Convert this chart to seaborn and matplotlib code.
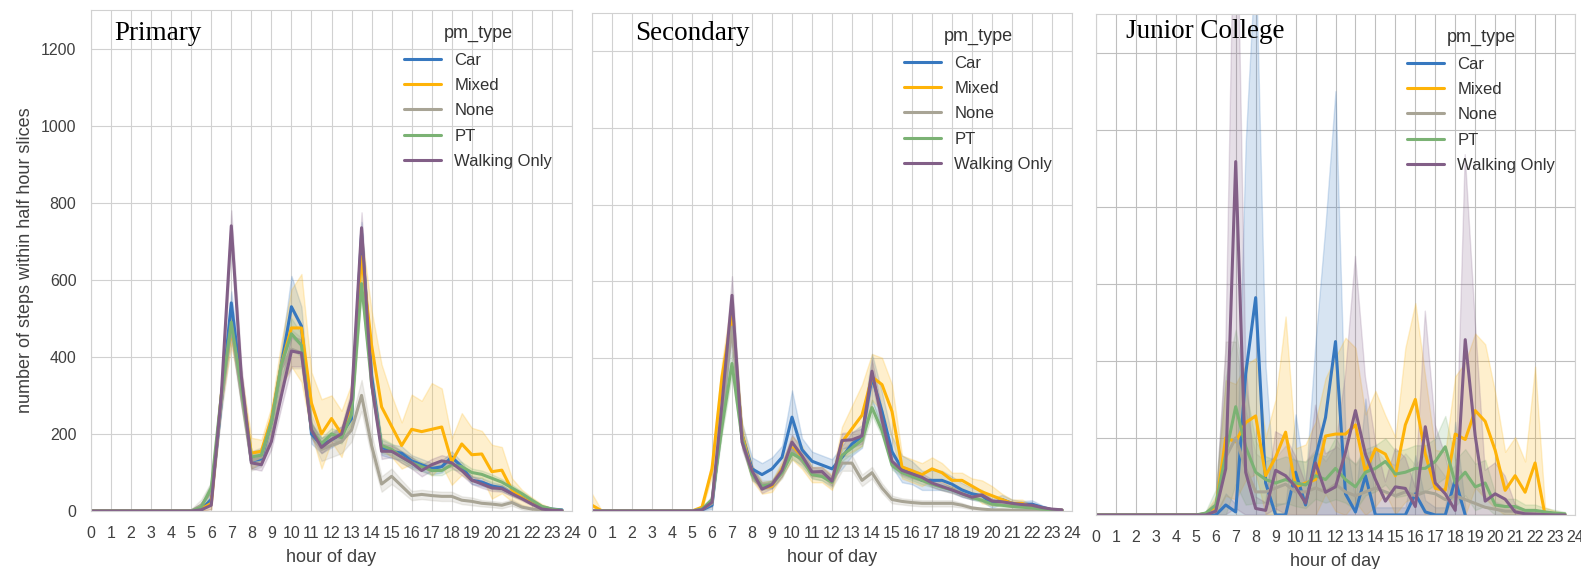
import numpy as np
import pandas as pd
import matplotlib
matplotlib.use('Agg')
import matplotlib.pyplot as plt
import seaborn as sns

nan = np.nan
hours = np.arange(0, 24, 0.5)  # half hour slices
pm_types = ['Car', 'Mixed', 'None', 'PT', 'Walking Only']
schools = ['Primary', 'Secondary', 'Junior College']

# --- Primary: mean steps per half hour
prim_car = [0,0,0,0,0,0,0,0,0,0,0,3, 30,280,540,330,130,135, 230,380,530,480,200,170, 185,200,240,720,350,165, 155,150,130,120,110,115, 140,115,80,75,65,60, 45,35,20,10,5,3]
prim_mixed = [0,0,0,0,0,0,0,0,0,0,0,5, 20,300,470,330,150,155, 240,380,475,475,280,200, 240,200,280,660,430,270, 220,170,212,206,212,218, 128,174,146,148,102,106, 55,35,20,8,3,0]
prim_none = [0,0,0,0,0,0,0,0,0,0,0,15, 50,280,480,300,130,140, 230,370,420,410,220,160, 170,180,210,300,170,70, 90,65,40,43,40,38, 38,28,25,20,18,15, 22,10,5,3,1,0]
prim_pt = [0,0,0,0,0,0,0,0,0,0,0,10, 60,300,490,320,140,145, 230,380,460,430,210,175, 200,190,250,590,330,170, 160,140,125,115,105,105, 120,115,100,95,85,75, 60,45,28,12,5,2]
prim_walk = [0,0,0,0,0,0,0,0,0,0,0,3, 15,300,740,350,125,120, 180,300,415,410,210,165, 185,200,290,735,330,155, 155,140,125,105,120,130, 125,105,80,70,60,58, 45,32,18,5,2,1]
# band half widths
prim_car_w = [0,0,0,0,0,0,0,0,0,0,3,5, 10,20,30,25,20,15, 20,40,80,50,25,20, 20,20,25,30,25,20, 18,18,15,15,15,15, 15,12,10,10,8,8, 6,5,4,3,2,1]
prim_mixed_w = [0,0,0,0,0,0,0,0,0,0,3,8, 15,30,40,30,40,30, 30,60,100,140,80,90, 60,60,50,60,90,110, 80,60,90,80,120,100, 60,80,70,60,70,60, 30,20,15,10,5,2]
prim_none_w = [0,0,0,0,0,0,0,0,0,0,5,15, 25,30,40,30,25,25, 25,40,50,40,30,30, 30,30,30,40,30,20, 20,15,12,12,12,12, 12,10,10,8,8,8, 8,6,5,3,2,1]
prim_pt_w = [0,0,0,0,0,0,0,0,0,0,3,10, 15,20,30,20,15,15, 20,30,40,30,20,15, 15,15,20,30,25,20, 15,15,15,12,12,12, 12,12,10,10,10,8, 8,6,5,3,2,1]
prim_walk_w = [0,0,0,0,0,0,0,0,0,0,2,5, 10,30,40,30,15,15, 20,30,40,35,20,15, 15,20,25,40,30,20, 15,15,15,15,15,15, 12,12,10,10,8,8, 6,5,4,3,2,1]

# --- Secondary
sec_car = [0,0,0,0,0,0,0,0,0,0,0,3, 15,250,500,200,110,95, 110,140,245,160,130,120, 110,140,175,195,350,260, 155,110,100,80,80,80, 70,55,45,40,20,30, 20,18,18,10,3,2]
sec_mixed = [15,0,0,0,0,0,0,0,0,0,0,10, 110,350,510,200,100,60, 65,110,165,140,95,95, 75,180,215,250,350,330, 260,115,105,95,110,100, 80,80,65,50,40,30, 20,20,10,5,3,2]
sec_none = [0,0,0,0,0,0,0,0,0,0,0,5, 20,250,480,190,100,70, 70,100,160,130,100,95, 75,125,125,80,100,60, 30,25,22,20,20,20, 20,15,8,5,3,3, 2,2,1,1,0,0]
sec_pt = [0,0,0,0,0,0,0,0,0,0,0,5, 30,220,385,190,95,65, 70,100,150,135,95,90, 75,145,165,185,270,210, 120,100,90,80,70,62, 55,45,35,28,18,15, 12,10,8,5,3,2]
sec_walk = [0,0,0,0,0,0,0,0,0,0,0,3, 23,280,563,180,105,57, 69,106,180,144,102,103, 78,184,186,196,365,238, 130,106,97,88,73,64, 55,45,36,42,26,24, 20,17,15,9,5,3]
sec_car_w = [0,0,0,0,0,0,0,0,0,0,0,2, 10,30,40,30,30,30, 30,30,70,30,25,25, 25,30,30,30,60,50, 40,35,30,25,25,25, 20,18,15,15,12,12, 10,8,10,5,2,1]
sec_mixed_w = [30,0,0,0,0,0,0,0,0,0,0,5, 20,40,50,30,20,15, 15,20,30,30,20,20, 20,40,60,80,60,70, 70,30,30,30,30,25, 20,20,20,30,25,15, 10,10,5,3,2,1]
sec_none_w = [0,0,0,0,0,0,0,0,0,0,0,3, 10,30,40,20,15,10, 10,15,20,15,15,15, 15,20,20,15,15,12, 10,8,8,8,8,8, 8,6,4,3,2,2, 1,1,1,1,0,0]
sec_pt_w = [0,0,0,0,0,0,0,0,0,0,0,3, 10,20,30,20,10,10, 10,10,15,15,10,10, 10,15,15,15,20,15, 12,10,10,10,8,8, 8,6,5,5,4,4, 3,3,2,2,1,1]
sec_walk_w = [0,0,0,0,0,0,0,0,0,0,0,2, 10,40,50,20,15,10, 10,15,20,15,12,12, 12,20,20,20,30,25, 15,12,12,10,10,10, 8,8,6,6,5,5, 4,4,3,2,1,1]

# --- Junior College
jc_car = [0,0,0,0,0,0,0,0,0,0,0,0, 0,26,8,366,564,83, 0,0,111,26,149,253, 450,55,8,102,0,0, 0,0,55,8,0,0, 92,0,nan,nan,nan,nan, nan,nan,nan,nan,nan,nan]
jc_mixed = [0,0,0,0,0,0,0,0,0,0,0,3, 17,200,190,240,257,102, 150,215,73,83,92,205, 210,210,234,111,172,158, 102,234,300,158,69,64, 210,196,271,243,168,64, 102,59,135,0,0,0]
jc_none = [0,0,0,0,0,0,0,0,0,0,0,3, 10,150,200,120,60,60, 70,80,60,60,70,60, 80,60,50,60,70,60, 50,60,50,60,55,40, 50,40,30,20,15,10, 10,5,3,2,1,0]
jc_pt = [0,0,0,0,0,0,0,0,0,0,0,5, 26,158,281,177,111,92, 83,92,83,78,102,92, 121,92,73,111,121,139, 106,111,121,121,139,177, 83,111,73,83,26,22, 22,12,12,8,5,3]
jc_walk = [0,0,0,0,0,0,0,0,0,0,0,0, 10,120,917,111,17,12, 116,102,73,31,135,59, 73,163,271,158,92,36, 73,69,22,229,83,55, 12,455,205,36,55,41, 8,3,2,1,0,0]
jc_car_w = [0,0,0,0,0,0,0,0,0,0,0,0, 5,30,20,600,900,300, 30,30,150,60,300,500, 650,150,30,200,20,20, 20,20,100,30,20,20, 150,20,nan,nan,nan,nan, nan,nan,nan,nan,nan,nan]
jc_mixed_w = [0,0,0,0,0,0,0,0,0,0,0,5, 30,150,150,150,150,100, 150,300,100,100,150,150, 200,250,200,150,150,100, 100,200,250,200,100,100, 150,200,200,200,150,100, 100,80,250,20,10,5]
jc_none_w = [0,0,0,0,0,0,0,0,0,0,0,5, 30,300,250,150,100,80, 80,100,80,80,100,80, 100,100,80,100,100,80, 80,100,80,100,80,60, 80,60,50,30,20,15, 10,8,5,3,2,1]
jc_pt_w = [0,0,0,0,0,0,0,0,0,0,0,5, 40,200,200,150,80,60, 60,60,60,60,60,60, 80,60,60,60,60,60, 60,60,60,60,60,80, 60,60,60,60,30,20, 20,15,15,10,8,5]
jc_walk_w = [0,0,0,0,0,0,0,0,0,0,0,0, 10,300,900,300,30,20, 100,100,80,50,150,100, 100,200,400,200,100,50, 100,80,50,300,150,100, 30,480,300,80,80,60, 20,10,5,3,2,1]

series = {
    'Primary': [(prim_car, prim_car_w), (prim_mixed, prim_mixed_w), (prim_none, prim_none_w), (prim_pt, prim_pt_w), (prim_walk, prim_walk_w)],
    'Secondary': [(sec_car, sec_car_w), (sec_mixed, sec_mixed_w), (sec_none, sec_none_w), (sec_pt, sec_pt_w), (sec_walk, sec_walk_w)],
    'Junior College': [(jc_car, jc_car_w), (jc_mixed, jc_mixed_w), (jc_none, jc_none_w), (jc_pt, jc_pt_w), (jc_walk, jc_walk_w)],
}

# long form table: low / mid / high per slice, median -> line, min..max -> band
rows = []
for school in schools:
    for pm, (vals, wid) in zip(pm_types, series[school]):
        for h, m, w in zip(hours, vals, wid):
            if np.isnan(m):
                continue
            for v in (max(m - w, 0), m, m + w):
                rows.append((school, pm, h, v))
df = pd.DataFrame(rows, columns=['school', 'pm_type', 'hour', 'steps'])

sns.set_style('whitegrid', {'axes.edgecolor': '.82', 'grid.color': '.82', 'text.color': '.2',
                            'xtick.color': '.25', 'ytick.color': '.25', 'axes.labelcolor': '.25'})
plt.rcParams['font.family'] = ['Liberation Sans', 'DejaVu Sans']

palette = sns.xkcd_palette(['windows blue', 'amber', 'greyish', 'faded green', 'dusty purple'])

fig = plt.figure(figsize=(15.81, 5.69), dpi=100)
W, H = 1581, 569
boxes = [(91, 10, 572, 511), (592, 13, 1072, 511), (1096, 14, 1575, 515)]
title_pos = [(0.048, 0.954), (0.09, 0.958), (0.063, 0.966)]

for i, school in enumerate(schools):
    x0, y0, x1, y1 = boxes[i]
    ax = fig.add_axes([x0 / W, 1 - y1 / H, (x1 - x0) / W, (y1 - y0) / H])
    sns.lineplot(data=df[df.school == school], x='hour', y='steps', hue='pm_type',
                 hue_order=pm_types, palette=palette, estimator='median',
                 errorbar=lambda v: (v.min(), v.max()), lw=2.2, ax=ax)
    ax.set_xlim(0, 24)
    ax.set_ylim(0, 1300)
    ax.set_xticks(range(25))
    ax.set_yticks(range(0, 1201, 200))
    ax.tick_params(axis='both', labelsize=11.5, pad=7)
    ax.set_xlabel('hour of day', fontsize=13, labelpad=6)
    if i == 0:
        ax.set_ylabel('number of steps within half hour slices', fontsize=13, labelpad=5)
    else:
        ax.set_ylabel('')
        ax.tick_params(axis='y', labelleft=False)
    if i == 2:
        ax.grid(color='.75', lw=0.8)
    ax.text(*title_pos[i], school, transform=ax.transAxes, fontsize=19.5,
            family='Liberation Serif', va='center', color='black')
    ax.legend(title='pm_type', loc='upper right', bbox_to_anchor=(0.99, 1.0),
              frameon=False, fontsize=12, title_fontsize=13, handlelength=2.2,
              labelspacing=0.62)

fig.savefig('out.png', dpi=100)
